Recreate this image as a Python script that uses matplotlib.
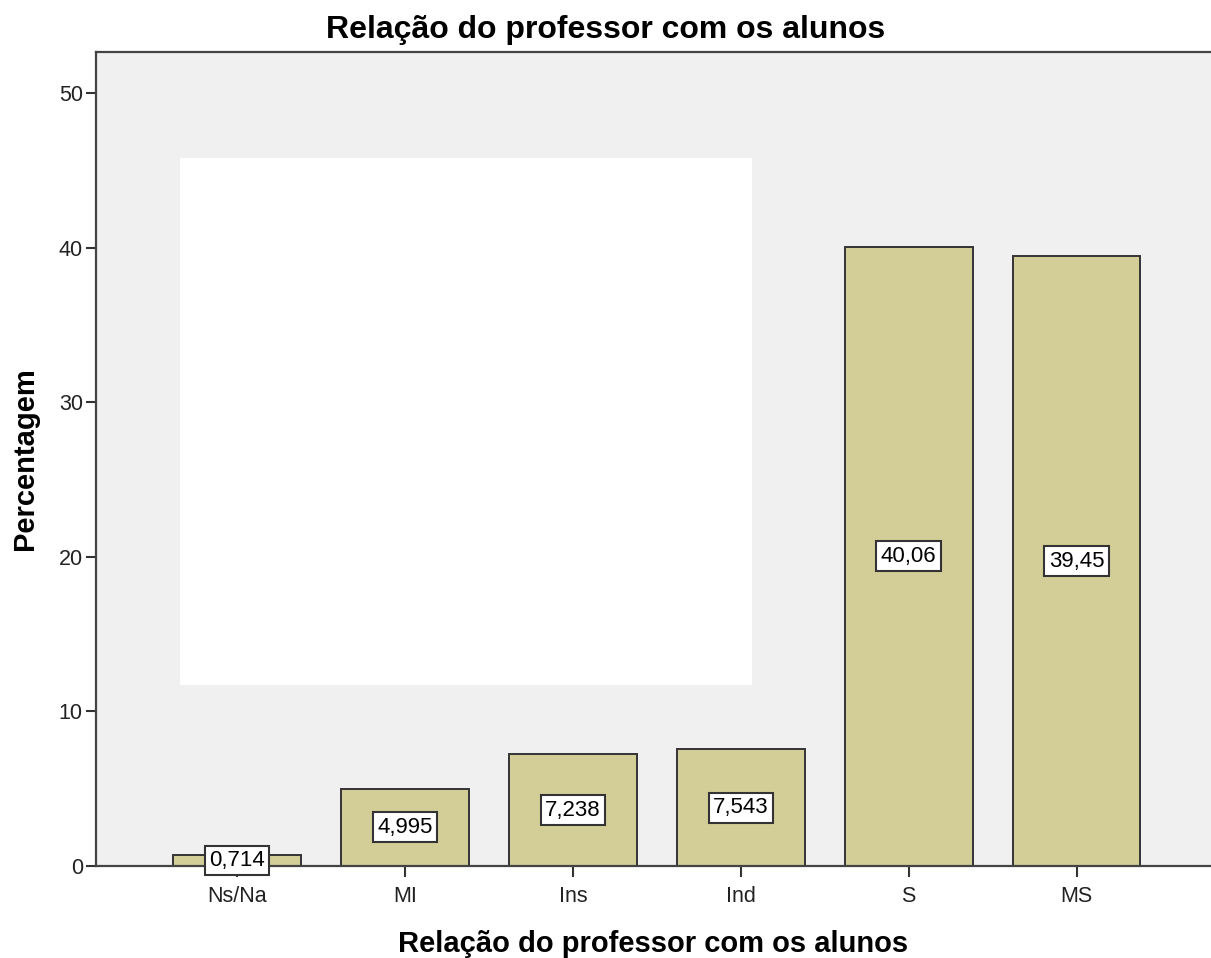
import matplotlib.pyplot as plt
from matplotlib.patches import Rectangle

categorias = ["Ns/Na", "MI", "Ins", "Ind", "S", "MS"]
percentagens = [0.714, 4.995, 7.238, 7.543, 40.06, 39.45]
rotulos = ["0,714", "4,995", "7,238", "7,543", "40,06", "39,45"]
yticks = [0, 10, 20, 30, 40, 50]

plt.rcParams['font.family'] = ['Liberation Sans', 'DejaVu Sans']

fig = plt.figure(figsize=(12.11, 9.58), dpi=100)
ax = fig.add_axes([0.0793, 0.096, 0.9207, 0.8497])
ax.set_facecolor("#f0f0f0")

# white block sitting on the plot area
fig.add_artist(Rectangle((0.1486, 0.285), 0.4723, 0.5501, transform=fig.transFigure,
                         facecolor="white", edgecolor="none", zorder=1.5))

x = range(len(categorias))
bars = ax.bar(x, percentagens, width=0.76, color="#d3ce98", edgecolor="#333333",
              linewidth=1.4, zorder=2)

for i, b in enumerate(bars):
    ax.text(b.get_x() + b.get_width() / 2, percentagens[i] / 2, rotulos[i],
            ha="center", va="center", fontsize=16, zorder=4,
            bbox=dict(boxstyle="square,pad=0.2", facecolor="white",
                      edgecolor="#333333", linewidth=1.5))

ax.set_xlim(-0.84, 5.8)
ax.set_ylim(0, 52.65)
ax.set_xticks(list(x))
ax.set_xticklabels(categorias, fontsize=15.5, color="#222222")
ax.set_yticks(yticks)
ax.set_yticklabels([str(v) for v in yticks], fontsize=15.5, color="#222222")
ax.tick_params(axis="y", direction="out", length=7.5, width=1.5, color="#333333", pad=2)
ax.tick_params(axis="x", direction="out", length=8, width=1.5, color="#333333", pad=6.5)

for s in ["left", "bottom", "top"]:
    ax.spines[s].set_color("#444444")
    ax.spines[s].set_linewidth(1.6)
ax.spines["right"].set_visible(False)

ax.set_xlabel("Relação do professor com os alunos", fontsize=21, fontweight="bold")
ax.xaxis.set_label_coords(0.5, -0.078)
ax.set_ylabel("Percentagem", fontsize=21, fontweight="bold")
ax.yaxis.set_label_coords(-0.051, 0.5)
fig.text(0.5, 0.9603, "Relação do professor com os alunos", ha="center", va="baseline",
         fontsize=23, fontweight="bold")

fig.savefig("out.png", dpi=100)
